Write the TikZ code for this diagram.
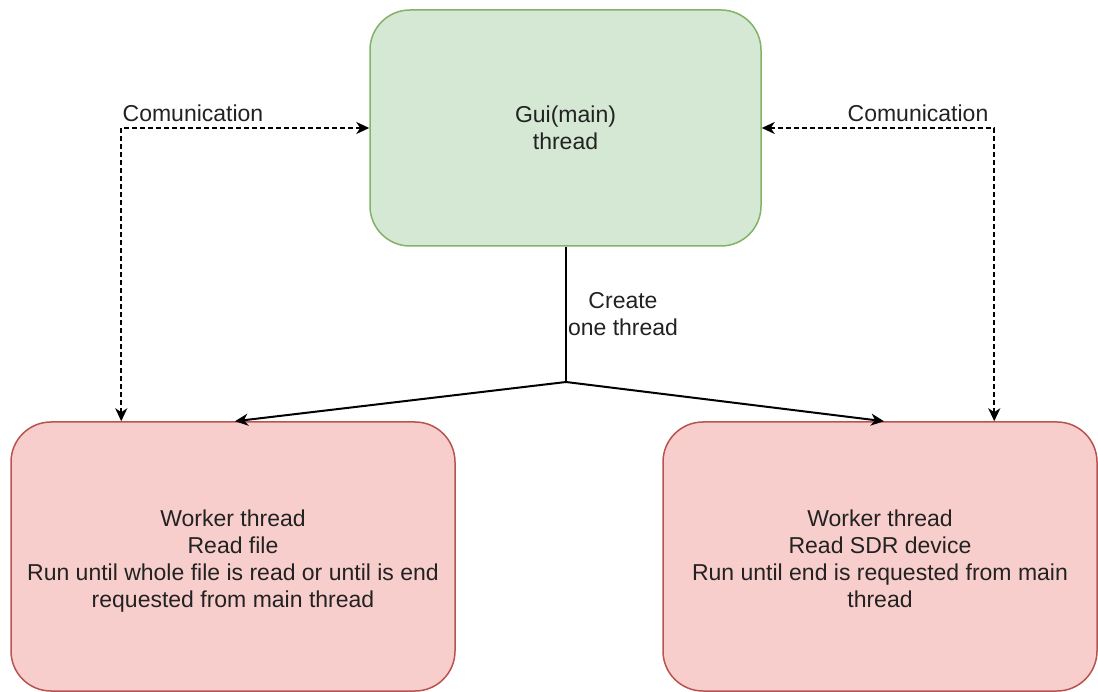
\documentclass[tikz,border=0pt]{standalone}
\usepackage{fontspec}
\setmainfont{Liberation Sans}
\usetikzlibrary{arrows.meta}
\definecolor{gfill}{HTML}{D5E8D4}
\definecolor{gline}{HTML}{82B366}
\definecolor{rfill}{HTML}{F8CECC}
\definecolor{rline}{HTML}{B85450}
\definecolor{txt}{HTML}{222222}
\newcommand{\lowertext}[1]{\raisebox{-5pt}[\height][\depth]{\begin{tabular}{@{}c@{}}#1\end{tabular}}}
\tikzset{
  box/.style={draw, line width=1.5pt, rounded corners=40pt, align=center,
    font=\fontsize{23}{27}\selectfont, text=txt, inner sep=0pt},
  gbox/.style={box, fill=gfill, draw=gline},
  rbox/.style={box, fill=rfill, draw=rline},
  conn/.style={line width=2pt, draw=black, -{Stealth[length=13pt,width=12pt,inset=4pt]}},
  plain/.style={line width=2pt, draw=black},
  dconn/.style={line width=2pt, draw=black, dash pattern=on 5pt off 3pt,
    {Stealth[length=13pt,width=12pt,inset=4pt]}-{Stealth[length=13pt,width=12pt,inset=4pt]}},
  lbl/.style={font=\fontsize{23}{27}\selectfont, text=txt, align=center, inner sep=0pt}
}
\begin{document}
\begin{tikzpicture}[x=1pt,y=-1pt]
\useasboundingbox (0,0) rectangle (1098,692);
\node[gbox, minimum width=391pt, minimum height=236pt] (gui) at (565.5,128) {Gui(main)\\thread};
\node[rbox, minimum width=444pt, minimum height=269pt] (w1) at (233,556.5)
  {\lowertext{Worker thread\\Read file\\Run until whole file is read or until is end\\requested from main thread}};
\node[rbox, minimum width=434pt, minimum height=269pt] (w2) at (880,556.5)
  {\lowertext{Worker thread\\Read SDR device\\Run until end is requested from main\\thread}};
\coordinate (j) at (566,382);
\draw[plain] (gui.south -| j) -- (j);
\draw[conn] (j) -- ([xshift=2pt]w1.north);
\draw[conn] (j) -- ([xshift=4pt]w2.north);
\draw[dconn] (gui.west) -| ([xshift=111pt]w1.north west);
\draw[dconn] (gui.east) -| ([xshift=332pt]w2.north west);
\node[lbl] (c1) at (193,113) {Comunication};
\node[lbl] (c2) at (918,113) {Comunication};
\node[lbl] (cr) at (623,314) {Create\\one thread};
\end{tikzpicture}
\end{document}
